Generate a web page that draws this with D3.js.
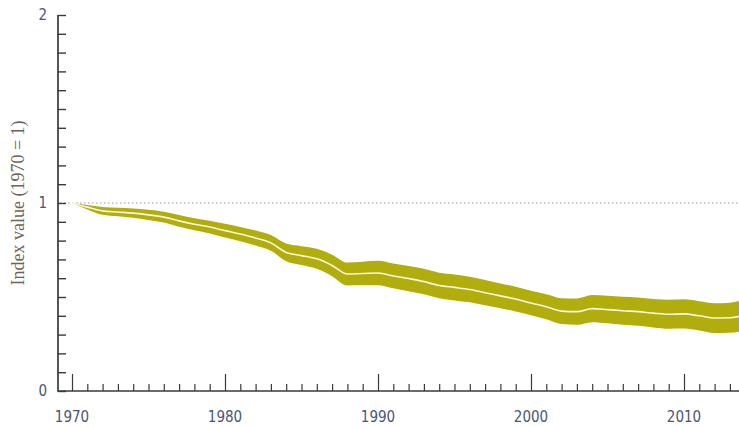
<!DOCTYPE html>
<html>
<head>
<meta charset="utf-8">
<script src="https://cdn.jsdelivr.net/npm/d3@7"></script>
<style>
  html, body { margin: 0; padding: 0; background: #fff; }
  svg { display: block; }
  .tick-label { font-family: "Liberation Sans Narrow", "Arial Narrow", "DejaVu Sans Condensed", sans-serif; font-size: 15px; fill: #4a5575; }
  .axis-title { font-family: "Liberation Serif", "DejaVu Serif", serif; font-size: 18px; fill: #6f6357; }
</style>
</head>
<body>
<svg id="chart" width="739" height="427"></svg>
<script>
const years = d3.range(1970, 2015)

// index, central estimate (white line)
const index_mid = [
  1.000, 0.978, 0.958, 0.952, 0.946, 0.937, 0.925, 0.905, 0.887, 0.872,
  0.853, 0.835, 0.814, 0.788, 0.737, 0.720, 0.703, 0.668, 0.622, 0.625,
  0.628, 0.612, 0.598, 0.582, 0.561, 0.551, 0.540, 0.523, 0.506, 0.489,
  0.468, 0.448, 0.425, 0.422, 0.438, 0.433, 0.427, 0.422, 0.414, 0.408,
  0.410, 0.400, 0.388, 0.390, 0.405
]

// confidence limits
const index_upper = [
  1.000, 0.990, 0.979, 0.975, 0.971, 0.964, 0.954, 0.936, 0.919, 0.906,
  0.889, 0.873, 0.854, 0.830, 0.784, 0.770, 0.756, 0.725, 0.683, 0.688,
  0.693, 0.678, 0.665, 0.650, 0.629, 0.620, 0.608, 0.590, 0.572, 0.555,
  0.533, 0.515, 0.494, 0.492, 0.510, 0.506, 0.501, 0.497, 0.490, 0.485,
  0.488, 0.478, 0.467, 0.470, 0.488
]

const index_lower = [
  1.000, 0.966, 0.937, 0.929, 0.921, 0.910, 0.896, 0.874, 0.855, 0.838,
  0.817, 0.797, 0.774, 0.746, 0.690, 0.670, 0.650, 0.611, 0.561, 0.562,
  0.563, 0.546, 0.531, 0.514, 0.493, 0.482, 0.472, 0.456, 0.440, 0.423,
  0.403, 0.381, 0.356, 0.352, 0.366, 0.360, 0.353, 0.347, 0.338, 0.331,
  0.332, 0.322, 0.309, 0.310, 0.322
]

const x_labels = [1970, 1980, 1990, 2000, 2010]
const y_labels = [0, 1, 2]
const y_ticks = d3.range(0, 21).map(i => i / 10)

const rows = years.map((year, i) => ({
  year: year,
  mid: index_mid[i],
  upper: index_upper[i],
  lower: index_lower[i]
}))

const svg = d3.select('#chart')
const axis_left = 58
const axis_bottom = 391

const x = d3.scaleLinear()
  .domain([1970, 2010])
  .range([72, 684])

const y = d3.scaleLinear()
  .domain([0, 2])
  .range([axis_bottom, 15])

// reference line at 1970 = 1
svg.append('line')
    .attr('x1', axis_left + 2)
    .attr('x2', 739)
    .attr('y1', y(1))
    .attr('y2', y(1))
    .attr('stroke', '#9a9a9a')
    .attr('stroke-width', 1)
    .attr('stroke-dasharray', '1.5,2.5')

const band = d3.area()
  .x(d => x(d.year))
  .y0(d => y(d.lower))
  .y1(d => y(d.upper))
  .curve(d3.curveMonotoneX)

const line = d3.line()
  .x(d => x(d.year))
  .y(d => y(d.mid))
  .curve(d3.curveMonotoneX)

svg.append('path')
    .datum(rows)
    .attr('d', band)
    .attr('fill', '#b0ad0d')

svg.append('path')
    .datum(rows)
    .attr('d', line)
    .attr('fill', 'none')
    .attr('stroke', '#f8f6dc')
    .attr('stroke-width', 1.6)

// y axis: ticks every 0.1 pointing inward
const y_axis = d3.axisRight(y)
  .tickValues(y_ticks)
  .tickSize(8)
  .tickFormat('')

svg.append('g')
    .attr('transform', `translate(${axis_left},0)`)
    .call(y_axis)
    .call(g => g.select('.domain').remove())
    .call(g => g.selectAll('.tick line')
      .attr('stroke', '#3a3a3a')
      .attr('stroke-width', 1.4))

svg.append('g')
  .selectAll('text')
  .data(y_labels)
  .enter()
  .append('text')
    .attr('class', 'tick-label')
    .attr('x', 47)
    .attr('y', d => y(d))
    .attr('dy', '0.36em')
    .attr('text-anchor', 'end')
    .text(d => d)

// x axis: yearly ticks, taller at decades
const x_axis = d3.axisTop(x)
  .tickValues(years)
  .tickSize(0)
  .tickFormat('')

svg.append('g')
    .attr('transform', `translate(0,${axis_bottom})`)
    .call(x_axis)
    .call(g => g.select('.domain').remove())
    .call(g => g.selectAll('.tick line')
      .attr('y2', d => d % 10 === 0 ? -17 : -7)
      .attr('stroke', '#3a3a3a')
      .attr('stroke-width', 1.2))

svg.append('g')
  .selectAll('text')
  .data(x_labels)
  .enter()
  .append('text')
    .attr('class', 'tick-label')
    .attr('x', d => x(d))
    .attr('y', 422)
    .attr('text-anchor', 'middle')
    .text(d => d)

// axis lines
svg.append('path')
    .attr('d', `M${axis_left},${y(2)}V${axis_bottom}H739`)
    .attr('fill', 'none')
    .attr('stroke', '#3a3a3a')
    .attr('stroke-width', 1.7)

svg.append('text')
    .attr('class', 'axis-title')
    .attr('transform', `translate(24,${y(1)}) rotate(-90)`)
    .attr('text-anchor', 'middle')
    .text('Index value (1970 = 1)')
</script>
</body>
</html>
